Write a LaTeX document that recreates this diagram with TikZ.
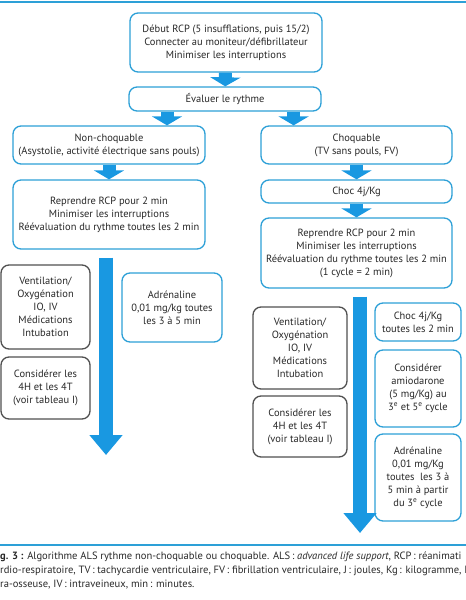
\documentclass[tikz,border=0pt]{standalone}
\usepackage{fontspec}
\setmainfont{PT Sans}
\usetikzlibrary{arrows.meta,calc}
\definecolor{rcpblue}{RGB}{45,160,215}
\definecolor{rcparrow}{RGB}{25,152,225}
\definecolor{rcpgray}{RGB}{80,80,80}
\definecolor{rcptext}{RGB}{40,40,40}

\begin{document}
\begin{tikzpicture}[x=1bp, y=-1bp,
		box/.style={draw=rcpblue, line width=1.3bp, rounded corners=8bp, fill=white, text=rcptext, align=center, inner sep=0pt, font=\fontsize{10.5}{13}\selectfont},
		graybox/.style={box, draw=rcpgray},
		flow/.style={color=rcparrow, line width=13bp, -{Triangle[width=30bp,length=9bp]}},
		longflow/.style={flow, line width=14bp, -{Triangle[width=32bp,length=20bp]}, shorten <=8bp}]
		\useasboundingbox (0, 0) rectangle (466, 600);

		% rules above and below
		\draw[rcpblue, line width=1.5bp] (0, 2) -- (466, 2);
		\draw[rcpblue, line width=1.5bp] (0, 545) -- (466, 545);

		% common start
		\node[box, minimum width=192bp, minimum height=59bp] (start) at (226, 42.5)
		{Début RCP (5 insufflations, puis 15/2)\\Connecter au moniteur/défibrillateur\\Minimiser les interruptions};
		\node[box, minimum width=192bp, minimum height=24bp] (eval) at (225, 99) {Évaluer le rythme};

		% non-choquable branch
		\node[box, minimum width=192bp, minimum height=38bp] (nonch) at (109, 145)
		{Non-choquable\\(Asystolie, activité électrique sans pouls)};
		\node[box, minimum width=192bp, minimum height=69bp] (reprL) at (109, 214.5)
		{Reprendre RCP pour 2 min\\Minimiser les interruptions\\Réévaluation du rythme toutes les 2 min};
		\node[graybox, minimum width=89bp, minimum height=84bp] (ventL) at (45.5, 307)
		{Ventilation/\\Oxygénation\\IO, IV\\Médications\\Intubation};
		\node[graybox, minimum width=89bp, minimum height=62bp] (consL) at (45.5, 388)
		{Considérer les\\4H et les 4T\\(voir tableau I)};
		\node[box, minimum width=100bp, minimum height=69bp] (adrL) at (172, 307.5)
		{Adrénaline\\0,01 mg/kg toutes\\les 3 à 5 min};

		% choquable branch
		\node[box, minimum width=191bp, minimum height=38bp] (choq) at (356.5, 145)
		{Choquable\\(TV sans pouls, FV)};
		\node[box, minimum width=191bp, minimum height=23bp] (choc) at (356.5, 191.5) {Choc 4j/Kg};
		\node[box, minimum width=191bp, minimum height=70bp] (reprR) at (356.5, 253)
		{Reprendre RCP pour 2 min\\Minimiser les interruptions\\Réévaluation du rythme toutes les 2 min\\(1 cycle = 2 min)};
		\node[graybox, minimum width=94bp, minimum height=82bp] (ventR) at (300, 348)
		{Ventilation/\\Oxygénation\\IO, IV\\Médications\\Intubation};
		\node[graybox, minimum width=94bp, minimum height=61bp] (consR) at (300, 426.5)
		{Considérer les\\4H et les 4T\\(voir tableau I)};
		\node[box, minimum width=86bp, minimum height=38bp] (chocR) at (418, 322)
		{Choc 4j/Kg\\toutes les 2 min};
		\node[box, minimum width=86bp, minimum height=77bp] (amio) at (418, 388.5)
		{Considérer\\amiodarone\\(5 mg/Kg) au\\3\textsuperscript{e} et 5\textsuperscript{e} cycle};
		\node[box, minimum width=86bp, minimum height=87bp] (adrR) at (418, 477.5)
		{Adrénaline\\0,01 mg/Kg\\toutes~ les 3 à\\5 min à partir\\du 3\textsuperscript{e} cycle};

		% arrows
		\coordinate (evalL) at ($(eval.south west)!.2!(eval.south east)$);
		\coordinate (evalR) at ($(eval.south west)!.855!(eval.south east)$);
		\coordinate (endL) at (106, 455);
		\coordinate (endR) at (360, 533);
		\draw[flow] (start) -- (eval);
		\draw[flow] (evalL) -- (evalL |- nonch.north);
		\draw[flow] (evalR) -- (evalR |- choq.north);
		\draw[flow] (nonch) -- (reprL);
		\draw[flow] (choq) -- (choc);
		\draw[flow] (choc) -- (reprR);
		\draw[longflow] (reprL.south -| endL) -- (endL);
		\draw[longflow] (reprR.south -| endR) -- (endR);

		% caption, cut at the page edges
		\node[anchor=north west, align=left, inner sep=0pt, text=rcptext, font=\fontsize{10.6}{14}\selectfont] (caption) at (0, 552)
		{\textbf{g. 3 :} Algorithme ALS rythme non-choquable ou choquable. ALS\,: \textit{advanced life support}, RCP\,: réanimati\\
		rdio-respiratoire, TV\,: tachycardie ventriculaire, FV\,: fibrillation ventriculaire, J\,: joules, Kg\,: kilogramme, I\\
		ra-osseuse, IV\,: intraveineux, min\,: minutes.};
	\end{tikzpicture}
\end{document}
